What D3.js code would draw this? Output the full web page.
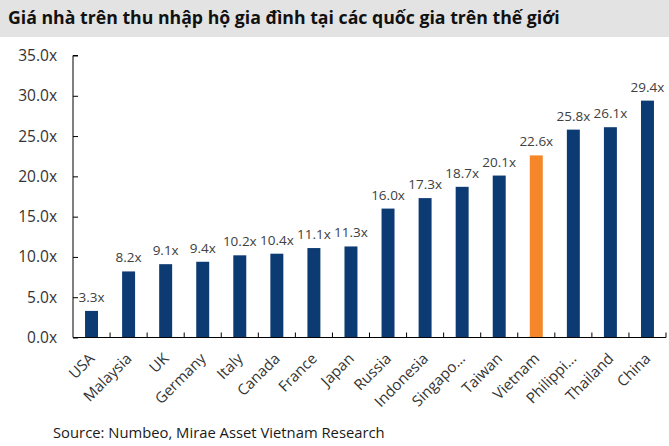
<!DOCTYPE html>
<html><head><meta charset="utf-8">
<script src="https://cdn.jsdelivr.net/npm/d3@7"></script>
<style>
html,body{margin:0;padding:0;background:#fff;}
svg{display:block;font-family:"Open Sans","Noto Sans",sans-serif;}
</style></head>
<body><svg id="c" width="669" height="446"></svg>
<script>
const categories = ["USA","Malaysia","UK","Germany","Italy","Canada","France","Japan","Russia","Indonesia","Singapo...","Taiwan","Vietnam","Philippi...","Thailand","China"];
const values = [3.3,8.2,9.1,9.4,10.2,10.4,11.1,11.3,16.0,17.3,18.7,20.1,22.6,25.8,26.1,29.4];
const highlight = ["Vietnam"];
const yTicks = [0,5,10,15,20,25,30,35];
const title = "Giá nhà trên thu nhập hộ gia đình tại các quốc gia trên thế giới";
const source = "Source: Numbeo, Mirae Asset Vietnam Research";

(function(){
const svg = d3.select("#c");
svg.append("rect").attr("x",0).attr("y",0).attr("width",669).attr("height",37).attr("fill","#e3e3e3");
svg.append("text").attr("x",8).attr("y",24).attr("font-size",17.7).attr("font-weight",700).attr("fill","#111").text(title);

const pL=73, pR=666, pT=55.5, pB=337.5;
const x = d3.scaleBand().domain(categories).range([pL,pR]).paddingInner(0.65).paddingOuter(0.325);
const xb = d3.scaleBand().domain(categories).range([pL,pR]);
const y = d3.scaleLinear().domain([0,35]).range([pB,pT]);

// y axis
const ya = svg.append("g").attr("transform",`translate(${pL},0)`)
  .call(d3.axisRight(y).tickValues(yTicks).tickSize(5).tickFormat(""));
ya.select(".domain").attr("d",`M5,${pT}H0V${pB}`).attr("stroke","#000");
ya.selectAll(".tick line").attr("stroke","#000");
svg.append("g").selectAll("text").data(yTicks).join("text")
  .attr("x",57).attr("y",d=>y(d)+5.5).attr("text-anchor","end")
  .attr("font-size",15.5).attr("fill","#333").text(d=>d.toFixed(1)+"x");

// bars
svg.append("g").selectAll("rect").data(values).join("rect")
  .attr("x",(d,i)=>x(categories[i])).attr("width",x.bandwidth())
  .attr("y",d=>y(d)).attr("height",d=>pB-y(d))
  .attr("fill",(d,i)=>highlight.includes(categories[i])?"#f5862a":"#0b3b72");

// data labels
svg.append("g").selectAll("text").data(values).join("text")
  .attr("x",(d,i)=>x(categories[i])+x.bandwidth()/2).attr("y",d=>y(d)-9)
  .attr("text-anchor","middle").attr("font-size",13.5).attr("fill","#404040")
  .text(d=>d.toFixed(1)+"x");

// x axis
const boundaries = categories.map(c=>xb(c)+xb.bandwidth());
svg.append("line").attr("x1",pL).attr("x2",pR).attr("y1",pB).attr("y2",pB).attr("stroke","#000");
svg.append("g").selectAll("line").data(boundaries).join("line")
  .attr("x1",d=>d).attr("x2",d=>d).attr("y1",pB).attr("y2",pB-5).attr("stroke","#000");

svg.append("g").selectAll("text").data(categories).join("text")
  .attr("transform",d=>`translate(${xb(d)+xb.bandwidth()/2+4},${pB+22}) rotate(-45)`)
  .attr("text-anchor","end").attr("font-size",15).attr("fill","#333").text(d=>d);

svg.append("text").attr("x",53).attr("y",438).attr("font-size",14.8).attr("fill","#1a1a1a").text(source);
})();
</script></body></html>
